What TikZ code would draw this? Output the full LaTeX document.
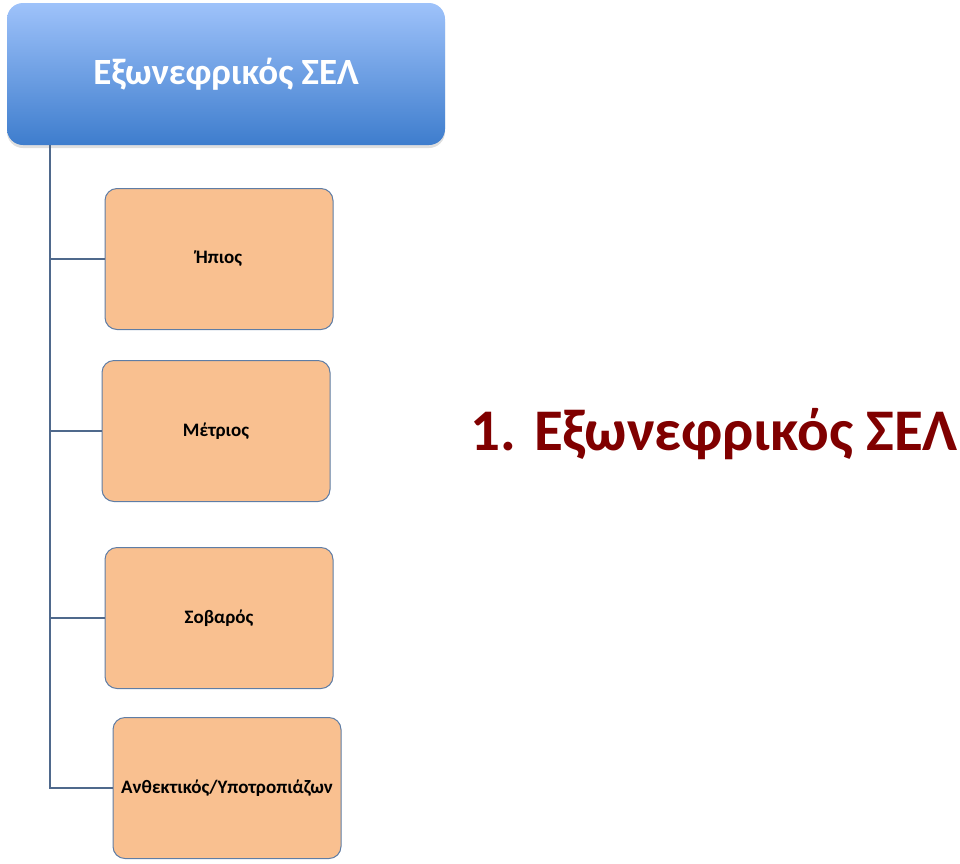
\documentclass[tikz,border=0pt]{standalone}
\usepackage{fontspec}
\setmainfont{Carlito}
\usetikzlibrary{shadows}

\definecolor{linegray}{RGB}{79,105,140}
\definecolor{boxline}{RGB}{95,125,165}
\definecolor{boxfill}{RGB}{249,192,144}
\definecolor{toplight}{RGB}{158,194,250}
\definecolor{topdark}{RGB}{62,125,205}
\definecolor{titlered}{RGB}{128,0,0}

\tikzset{
  levelbox/.style={draw=boxline, line width=1pt, fill=boxfill, rounded corners=12pt,
    minimum width=228pt, minimum height=141pt, font=\fontsize{19}{22}\selectfont\bfseries},
  trunk/.style={draw=linegray, line width=1.2pt}
}

\begin{document}
\begin{tikzpicture}[x=1pt, y=-1pt]
      \useasboundingbox (0,0) rectangle (960,863);

      \draw (226, 74) node [rounded corners=16pt, minimum width=438pt, minimum height=142pt,
        top color=toplight, bottom color=topdark, draw=none,
        drop shadow={shadow xshift=0pt, shadow yshift=-3pt, opacity=0.25},
        text=white, font=\fontsize{37}{44}\selectfont\bfseries] (sel) {Εξωνεφρικός ΣΕΛ};

      \draw (219, 259) node [levelbox] (hpios) {Ήπιος};
      \draw (216, 431) node [levelbox] (metrios) {Μέτριος};
      \draw (219, 618) node [levelbox] (sovaros) {Σοβαρός};
      \draw (227, 788) node [levelbox] (anthektikos) {Ανθεκτικός/Υποτροπιάζων};

      \coordinate (root) at (50, 145);
      \draw [trunk] (root) |- (hpios.west);
      \draw [trunk] (root) |- (metrios.west);
      \draw [trunk] (root) |- (sovaros.west);
      \draw [trunk] (root) |- (anthektikos.west);

      %%%%%%%%%%%%%%%%%%%%%%%%%%%%%%%%%%%%%%%%%%%%%%%%%%%%%%%%%%%%%%
      % Title
      %%%%%%%%%%%%%%%%%%%%%%%%%%%%%%%%%%%%%%%%%%%%%%%%%%%%%%%%%%%%%%
      \draw (714, 434) node [text=titlered, font=\fontsize{59}{70}\selectfont\bfseries] (title)
      {1. Εξωνεφρικός ΣΕΛ};
\end{tikzpicture}
\end{document}
